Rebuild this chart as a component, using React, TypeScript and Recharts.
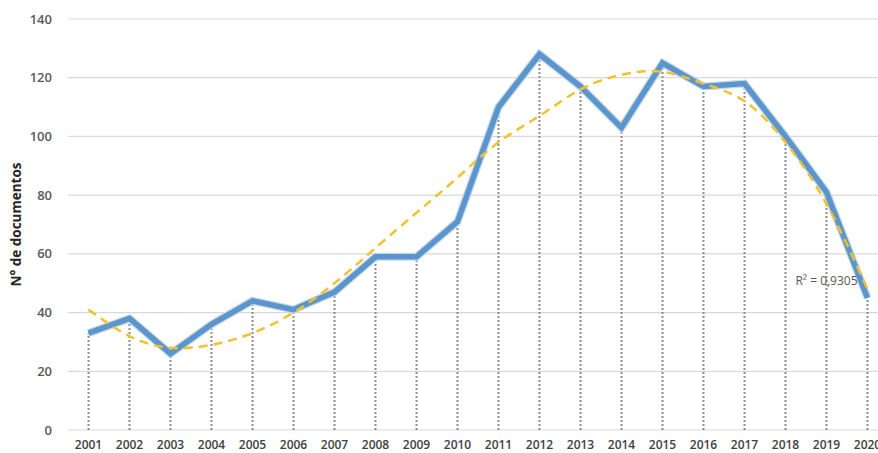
import React from 'react';
import { LineChart, Line, XAxis, YAxis, CartesianGrid, ReferenceLine, ReferenceDot } from 'recharts';

const years = ['2001','2002','2003','2004','2005','2006','2007','2008','2009','2010','2011','2012','2013','2014','2015','2016','2017','2018','2019','2020'];
const documentos = [33, 38, 26, 36, 44, 41, 47, 59, 59, 71, 110, 128, 117, 103, 125, 117, 118, 100, 81, 45];
const tendencia = [41, 32, 28, 29, 33, 40, 50, 62, 74, 86, 98, 107, 116, 121, 122, 118, 112, 98, 77, 48];
const yTicks = [0, 20, 40, 60, 80, 100, 120, 140];
const r2Label = 'R² = 0,9305';

const data = years.map((y, i) => ({ year: y, docs: documentos[i], trend: tendencia[i] }));

const font = '"Open Sans", "Liberation Sans", sans-serif';

export default function App() {
  return (
    <div style={{ position: 'absolute', left: 0, top: 0, width: 878, height: 453, overflow: 'hidden', background: '#fff' }}>
      <LineChart width={888} height={453} data={data} margin={{ top: 19, right: 0, bottom: 0, left: 0 }}>
        <CartesianGrid vertical={false} stroke="#d9d9d9" strokeWidth={1.2} />
        <XAxis
          dataKey="year"
          axisLine={false}
          tickLine={false}
          height={23}
          interval={0}
          padding={{ left: 20.5, right: 20.5 }}
          tick={{ fill: '#404040', fontSize: 12, fontWeight: 600, fontFamily: font }}
          tickMargin={4}
        />
        <YAxis
          domain={[0, 140]}
          ticks={yTicks}
          width={68}
          axisLine={false}
          tickLine={false}
          tickMargin={10}
          tick={{ fill: '#595959', fontSize: 13, fontWeight: 600, fontFamily: font }}
          label={{ value: 'N° de documentos', angle: -90, position: 'insideLeft', offset: 16, style: { textAnchor: 'middle', fill: '#262626', fontSize: 13.5, fontWeight: 700, fontFamily: font } }}
        />
        {data.map((d) => (
          <ReferenceLine
            key={d.year}
            segment={[{ x: d.year, y: 0 }, { x: d.year, y: d.docs }]}
            stroke="#8c8c8c"
            strokeWidth={2}
            strokeDasharray="2 2"
          />
        ))}
        <Line dataKey="docs" type="linear" stroke="#c3d7ec" strokeWidth={8} dot={false} isAnimationActive={false} />
        <Line dataKey="docs" type="linear" stroke="#5b95cc" strokeWidth={5.5} dot={false} isAnimationActive={false} />
        <Line dataKey="trend" type="natural" stroke="#f2c12e" strokeWidth={2.5} strokeDasharray="9 6" dot={false} isAnimationActive={false} />
        <ReferenceDot
          x="2019"
          y={51}
          r={0}
          fill="none"
          stroke="none"
          label={{ value: r2Label, position: 'center', fill: '#595959', fontSize: 12, fontFamily: font }}
        />
      </LineChart>
    </div>
  );
}
